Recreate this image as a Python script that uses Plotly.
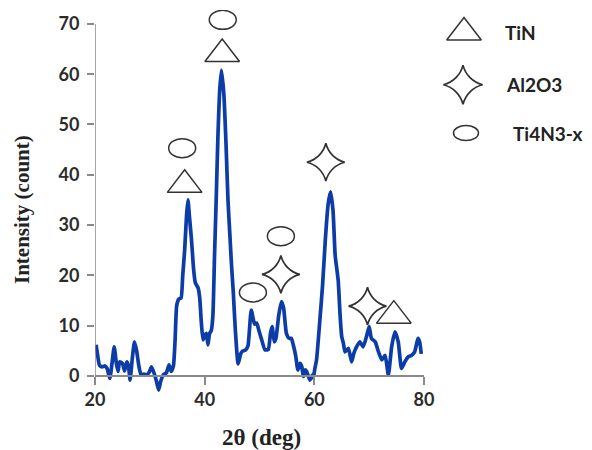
import plotly.graph_objects as go

# ---------------- data ----------------
two_theta = [20.2, 20.5, 20.8, 21.3, 21.8, 22.2, 22.7, 23.1, 23.5, 23.9, 24.2, 24.5, 25.0, 25.4,
             25.8, 26.1, 26.4, 26.8, 27.2, 27.6, 28.0, 28.4, 28.9, 29.4, 29.9, 30.3, 30.8, 31.2,
             31.6, 32.0, 32.5, 33.0, 33.5, 33.9, 34.3, 34.6, 34.9, 35.3, 35.7, 36.0, 36.35, 36.7,
             36.95, 37.2, 37.6, 38.0, 38.3, 38.8, 39.1, 39.4, 39.7, 40.0, 40.3, 40.6, 40.9, 41.2,
             41.5, 41.8, 42.1, 42.4, 42.7, 43.05, 43.5, 43.9, 44.25, 44.6, 44.9, 45.2, 45.6, 46.1,
             46.6, 47.0, 47.5, 47.9, 48.5, 49.1, 49.5, 49.9, 50.4, 51.0, 51.6, 52.0, 52.3, 52.7,
             53.0, 53.5, 54.0, 54.4, 54.9, 55.4, 55.8, 56.2, 56.6, 57.0, 57.4, 57.7, 58.0, 58.3,
             58.6, 58.9, 59.2, 59.6, 59.8, 60.1, 60.4, 61.0, 61.5, 62.0, 62.5, 62.95, 63.4, 63.8,
             64.35, 64.7, 65.0, 65.3, 65.6, 66.2, 66.8, 67.2, 67.7, 68.3, 68.9, 69.5, 70.0, 70.4,
             71.1, 71.7, 72.3, 72.9, 73.5, 74.1, 74.7, 75.3, 75.9, 76.5, 77.1, 77.7, 78.3, 78.9,
             79.2, 79.5]
intensity = [6.2, 4.0, 2.2, 1.8, 2.0, 1.5, -0.5, 2.5, 5.8, 2.5, 0.9, 2.8, 2.5, 1.0,
             2.8, 2.0, -0.8, 3.5, 6.8, 5.0, 2.0, 0.2, 0.4, 0.2, 0.8, 1.8, 0.5, -1.0,
             -2.8, -1.0, 0.3, 0.6, 2.2, 0.9, 2.0, 7.0, 14.0, 15.3, 15.5, 20.0, 25.0, 32.0,
             35.0, 32.0, 27.0, 21.0, 18.5, 17.5, 15.5, 10.5, 7.2, 8.0, 8.5, 6.2, 8.5, 9.0,
             12.0, 24.0, 35.0, 47.0, 56.0, 60.8, 56.0, 46.0, 35.0, 28.0, 22.0, 17.0, 9.0, 2.4,
             4.5, 5.0, 5.2, 6.0, 13.1, 10.3, 10.5, 9.0, 7.2, 5.2, 5.3, 8.5, 9.8, 6.8,
             7.5, 12.0, 14.8, 13.5, 8.5, 7.5, 7.5, 6.0, 4.0, 1.2, 2.5, 1.9, -0.1, 1.2,
             0.9, 0.0, -0.8, 0.2, -0.4, 1.5, 3.2, 11.0, 18.0, 27.0, 34.0, 36.6, 33.0, 24.0,
             19.0, 12.0, 7.8, 6.5, 4.8, 5.5, 2.8, 4.5, 5.8, 6.8, 5.8, 7.8, 9.8, 7.5,
             6.8, 4.8, 3.2, 4.1, 0.2, 5.8, 8.8, 6.8, 1.5, 2.8, 3.8, 4.1, 4.8, 7.5,
             6.8, 4.4]

# phase markers placed over the peaks
tin_x = [36.35, 43.2, 74.5]
tin_y = [38.0, 64.0, 12.0]
al2o3_x = [53.9, 62.1, 69.7]
al2o3_y = [20.2, 42.5, 13.9]
ti4n3_x = [35.9, 43.3, 48.8, 53.9]
ti4n3_y = [45.3, 70.8, 16.6, 27.8]

legend_labels = ["TiN", "Al2O3", "Ti4N3-x"]
legend_y = [68.3, 57.9, 48.3]

x_ticks = [20, 40, 60, 80]
y_ticks = [0, 10, 20, 30, 40, 50, 60, 70]

# ---------------- layout geometry ----------------
# the page body has an 8px margin, so figure pixels = page pixels - OFF
OFF = 8
W, H = 576, 442
ML, MR, MT = 95 - OFF, 0, 10 - OFF
MB = H - (400 - OFF)
X_RANGE = [20, 80]
Y_RANGE = [-4.77, 72.76]
plot_w = W - ML - MR
plot_h = H - MT - MB
X_DOMAIN = [0, (424 - 95) / plot_w]
LEG_DOMAIN = [(433 - 95) / plot_w, 1.0]
px_per_x = plot_w * (X_DOMAIN[1] - X_DOMAIN[0]) / (X_RANGE[1] - X_RANGE[0])
px_per_y = plot_h / (Y_RANGE[1] - Y_RANGE[0])
leg_range = [95 + plot_w * LEG_DOMAIN[0], 95 + plot_w * LEG_DOMAIN[1]]  # page pixel units

LINE_BLUE = "#0b3ca8"
INK = "#333333"
AXIS_GRAY = "#8a8a8a"
TICK_FONT = dict(family="Lato", size=18, color="#2b2b2b", weight="bold")
TITLE_FONT = dict(family="Liberation Serif", size=21, color="#222222", weight="bold")

fig = go.Figure()

fig.add_trace(go.Scatter(x=two_theta, y=intensity, mode="lines",
                         line=dict(color=LINE_BLUE, width=3.7, shape="spline", smoothing=0.5),
                         showlegend=False, hoverinfo="x+y"))

fig.add_trace(go.Scatter(x=tin_x, y=tin_y, mode="markers", cliponaxis=False,
                         marker=dict(symbol="triangle-up-open", size=30,
                                     line=dict(color=INK, width=1.5), color=INK),
                         showlegend=False))
fig.add_trace(go.Scatter(x=al2o3_x, y=al2o3_y, mode="markers", cliponaxis=False,
                         marker=dict(symbol="star-diamond-open", size=27,
                                     line=dict(color=INK, width=1.7), color=INK),
                         showlegend=False))

# ellipses (Ti4N3-x) as shapes in data coordinates
ELL_W, ELL_H = 27, 19  # px
shapes = []
for cx, cy in zip(ti4n3_x, ti4n3_y):
    rx = ELL_W / 2 / px_per_x
    ry = ELL_H / 2 / px_per_y
    shapes.append(dict(type="circle", xref="x", yref="y", x0=cx - rx, x1=cx + rx,
                       y0=cy - ry, y1=cy + ry, line=dict(color=INK, width=1.5)))

# custom legend on an invisible side axis (x2 in page pixel units)
LEG_SYM_X = [464, 463, 466]
LEG_TXT_X = [503, 504, 511]
fig.add_trace(go.Scatter(x=[LEG_SYM_X[0]], y=[legend_y[0]], xaxis="x2", yaxis="y",
                         mode="markers", cliponaxis=False,
                         marker=dict(symbol="triangle-up-open", size=30,
                                     line=dict(color=INK, width=1.5), color=INK),
                         showlegend=False, hoverinfo="skip"))
fig.add_trace(go.Scatter(x=[LEG_SYM_X[1]], y=[legend_y[1]], xaxis="x2", yaxis="y",
                         mode="markers", cliponaxis=False,
                         marker=dict(symbol="star-diamond-open", size=28,
                                     line=dict(color=INK, width=1.7), color=INK),
                         showlegend=False, hoverinfo="skip"))
shapes.append(dict(type="circle", xref="x2", yref="y",
                   x0=LEG_SYM_X[2] - 12.5, x1=LEG_SYM_X[2] + 12.5,
                   y0=legend_y[2] - 7.5 / px_per_y, y1=legend_y[2] + 7.5 / px_per_y,
                   line=dict(color=INK, width=1.5)))

annotations = []
for lbl, tx, ty in zip(legend_labels, LEG_TXT_X, legend_y):
    annotations.append(dict(text=lbl, x=tx, y=ty, xref="x2", yref="y", xanchor="left",
                            yanchor="middle", showarrow=False,
                            font=dict(family="Lato", size=19, color="#222222", weight="bold")))

# vertical axis line (from 0 to 70 only)
shapes.append(dict(type="line", xref="x", yref="y", x0=X_RANGE[0], x1=X_RANGE[0],
                   y0=y_ticks[0], y1=y_ticks[-1], line=dict(color=AXIS_GRAY, width=1.5)))

# axis titles (positions given in page pixels)
plot_bottom_page = 400
annotations.append(dict(text="Intensity (count)", textangle=-90, xref="paper", yref="paper",
                        x=(22 - 95) / plot_w, y=(plot_bottom_page - 210) / plot_h,
                        xanchor="center", yanchor="middle", showarrow=False, font=TITLE_FONT))
annotations.append(dict(text="2θ (deg)", xref="paper", yref="paper",
                        x=(261 - 95) / plot_w, y=(plot_bottom_page - 437) / plot_h,
                        xanchor="center", yanchor="middle", showarrow=False,
                        font=dict(TITLE_FONT, size=23)))

zero_pos = (0 - Y_RANGE[0]) / (Y_RANGE[1] - Y_RANGE[0])

fig.update_layout(
    width=W, height=H, autosize=False,
    margin=dict(l=ML, r=MR, t=MT, b=MB, pad=0, autoexpand=False),
    paper_bgcolor="white", plot_bgcolor="white",
    showlegend=False,
    xaxis=dict(domain=X_DOMAIN, range=X_RANGE, anchor="free", position=zero_pos,
               tickvals=x_ticks, ticks="outside", ticklen=8, tickwidth=1.5,
               tickcolor=AXIS_GRAY, showline=True, linecolor=AXIS_GRAY, linewidth=1.5,
               showgrid=False, zeroline=False, tickfont=TICK_FONT, automargin=False),
    yaxis=dict(range=Y_RANGE, domain=[0, 1], tickvals=y_ticks, ticks="outside", ticklen=7,
               tickwidth=1.5, tickcolor=AXIS_GRAY, showline=False, showgrid=False,
               zeroline=False, tickfont=TICK_FONT, ticklabelstandoff=4, automargin=False),
    xaxis2=dict(domain=LEG_DOMAIN, range=leg_range, anchor="y", visible=False,
                showgrid=False, zeroline=False),
    shapes=shapes,
    annotations=annotations,
)

fig.write_html("out.html", config={"responsive": False})
